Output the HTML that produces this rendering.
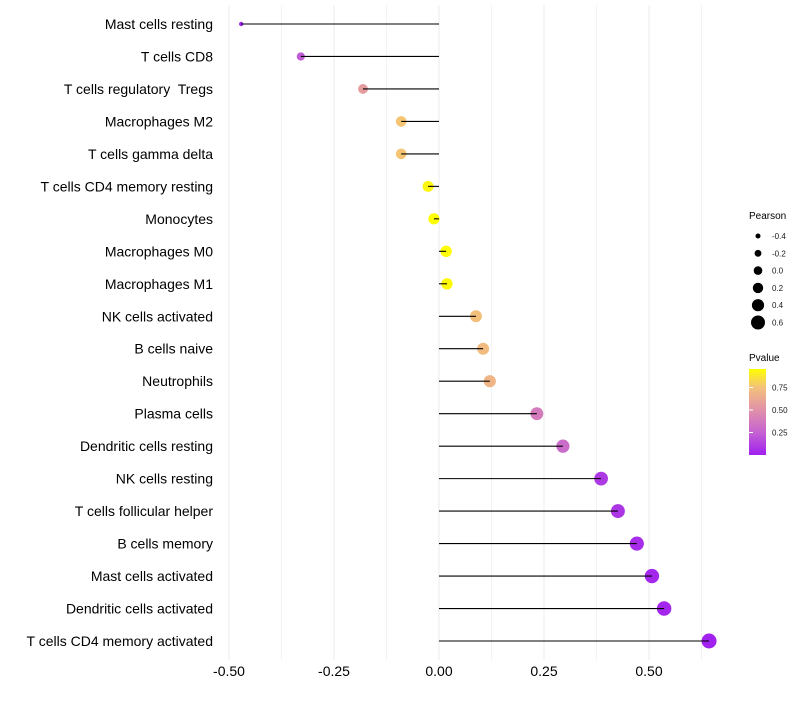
<!DOCTYPE html>
<html><head><meta charset="utf-8"><style>
body{margin:0;background:#fff;font-family:"Liberation Sans",sans-serif}
text{white-space:pre}
</style></head><body>
<svg id="chart" width="800" height="700" xmlns="http://www.w3.org/2000/svg" font-family="Liberation Sans, sans-serif">
<defs><linearGradient id="pg" x1="0" y1="1" x2="0" y2="0">
<stop offset="0" stop-color="#a020f0"/><stop offset="0.26" stop-color="#c462d2"/><stop offset="0.53" stop-color="#e192a8"/><stop offset="0.79" stop-color="#f4c27a"/><stop offset="1" stop-color="#ffff00"/>
</linearGradient></defs>
<g id="grid"></g><g id="marks"></g><g id="ylabels"></g><g id="xlabels"></g>
<g id="legend">
<text x="749" y="219" font-size="10">Pearson</text>
<g id="sizeleg"></g>
<text x="749" y="361" font-size="10">Pvalue</text>
<rect x="749" y="369" width="17" height="86" fill="url(#pg)"/>
<g id="cbticks"></g>
</g>
</svg>
<script>
const categories=["Mast cells resting","T cells CD8","T cells regulatory  Tregs","Macrophages M2","T cells gamma delta","T cells CD4 memory resting","Monocytes","Macrophages M0","Macrophages M1","NK cells activated","B cells naive","Neutrophils","Plasma cells","Dendritic cells resting","NK cells resting","T cells follicular helper","B cells memory","Mast cells activated","Dendritic cells activated","T cells CD4 memory activated"];
const pearson=[-0.471,-0.329,-0.181,-0.09,-0.09,-0.026,-0.012,0.017,0.019,0.088,0.105,0.121,0.233,0.295,0.386,0.426,0.471,0.507,0.536,0.643];
const pvalue=[0.03,0.22,0.55,0.76,0.76,0.92,0.95,0.94,0.93,0.74,0.72,0.68,0.38,0.3,0.1,0.08,0.05,0.03,0.02,0.005];
const xTicks=[-0.5,-0.25,0,0.25,0.5];
const xTickLabels=["-0.50","-0.25","0.00","0.25","0.50"];
const sizeLegend=[-0.4,-0.2,0.0,0.2,0.4,0.6];
const sizeLegendLabels=["-0.4","-0.2","0.0","0.2","0.4","0.6"];
const cbTicks=[0.25,0.5,0.75];
const cbTickLabels=["0.25","0.50","0.75"];
const NS="http://www.w3.org/2000/svg";
const x=v=>439+v*420;
const y=i=>24+i*(617/19);
const r=v=>2.2+5.3*Math.sqrt(Math.max(0,(v+0.47)/1.11));
const cb=p=>455-p*90;
const stops=[[0,[160,32,240]],[0.25,[196,98,210]],[0.5,[225,146,168]],[0.75,[244,194,122]],[0.95,[255,255,0]]];
function col(p){for(let k=1;k<stops.length;k++){if(p<=stops[k][0]||k==stops.length-1){const a=stops[k-1],b=stops[k];let t=Math.max(0,Math.min(1,(p-a[0])/(b[0]-a[0])));return "rgb("+a[1].map((c,j)=>Math.round(c+(b[1][j]-c)*t)).join(",")+")";}}}
function mk(t,at,par){const e=document.createElementNS(NS,t);for(const k in at)e.setAttribute(k,at[k]);document.getElementById(par).appendChild(e);return e;}
for(let g=-0.5;g<=0.626;g+=0.125){const l=mk("line",{x1:x(g),x2:x(g),y1:5,y2:660,stroke:"#ebebeb","stroke-width":Math.abs(g*4%1)<1e-6?1:0.6},"grid");

}
for(let i=0;i<categories.length;i++){
const c=mk("circle",{cx:x(pearson[i]),cy:y(i),r:r(pearson[i]),fill:col(pvalue[i])},"marks");


const s=mk("line",{x1:x(0),x2:x(pearson[i]),y1:y(i),y2:y(i),stroke:"#000","stroke-width":1.1},"marks");


const t=mk("text",{x:213,y:y(i)+5,"text-anchor":"end","font-size":14,fill:"#000"},"ylabels");t.textContent=categories[i];

}
for(let k=0;k<xTicks.length;k++){const t=mk("text",{x:x(xTicks[k]),y:676,"text-anchor":"middle","font-size":14,fill:"#000"},"xlabels");t.textContent=xTickLabels[k];

}
for(let k=0;k<sizeLegend.length;k++){const yy=236+k*17.3;
const c=mk("circle",{cx:758,cy:yy,r:2.5+0.9*k,fill:"#000"},"sizeleg");


const t=mk("text",{x:772,y:yy+3,"font-size":8,fill:"#1a1a1a"},"sizeleg");t.textContent=sizeLegendLabels[k];

}
for(let k=0;k<cbTicks.length;k++){const yy=cb(cbTicks[k]);
const l=mk("line",{x1:749,x2:753,y1:yy,y2:yy,stroke:"#fff"},"cbticks");


const t=mk("text",{x:772,y:yy+3,"font-size":8,fill:"#1a1a1a"},"cbticks");t.textContent=cbTickLabels[k];

}
</script>
</body></html>
